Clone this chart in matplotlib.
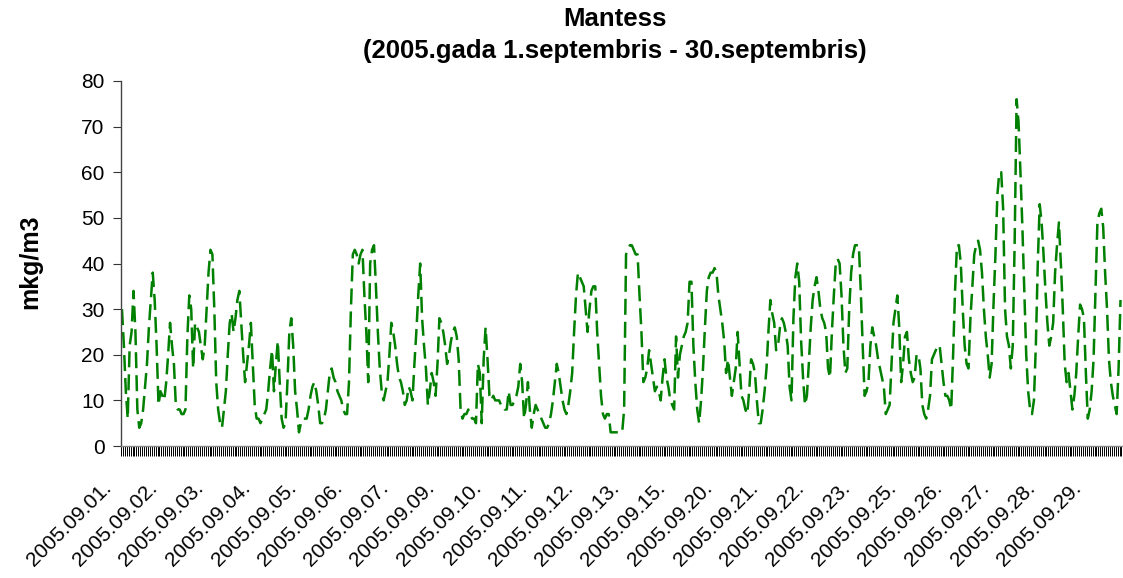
import matplotlib
matplotlib.use('Agg')
import matplotlib.pyplot as plt
import matplotlib.transforms as mtransforms
import numpy as np

plt.rcParams['font.family'] = ['Liberation Sans', 'DejaVu Sans']

dates = ['2005.09.01.', '2005.09.02.', '2005.09.03.', '2005.09.04.', '2005.09.05.',
         '2005.09.06.', '2005.09.07.', '2005.09.09.', '2005.09.10.', '2005.09.11.',
         '2005.09.12.', '2005.09.13.', '2005.09.15.', '2005.09.20.', '2005.09.21.',
         '2005.09.22.', '2005.09.23.', '2005.09.25.', '2005.09.26.', '2005.09.27.',
         '2005.09.28.', '2005.09.29.']

# hourly values (mkg/m3), one list per day
d0901 = [30, 22, 12, 6, 22, 25, 34, 25, 8, 4, 5, 8, 13, 18, 26, 32, 38, 32, 22, 9, 12, 11, 10, 14]
d0902 = [20, 27, 22, 18, 9, 8, 8, 7, 7, 8, 24, 33, 30, 17, 27, 26, 25, 22, 19, 22, 30, 38, 43, 42]
d0903 = [30, 14, 8, 5, 4, 8, 12, 20, 27, 29, 25, 28, 32, 34, 27, 20, 14, 18, 22, 27, 18, 9, 6, 6]
d0904 = [5, 6, 7, 8, 12, 17, 21, 12, 18, 23, 14, 6, 4, 5, 14, 25, 28, 22, 12, 8, 3, 5, 6, 6]
d0905 = [6, 8, 11, 13, 14, 12, 9, 5, 5, 6, 8, 12, 16, 17, 15, 14, 12, 11, 10, 8, 7, 7, 14, 30]
d0906 = [42, 43, 42, 40, 42, 43, 33, 25, 14, 40, 43, 44, 35, 25, 17, 12, 10, 12, 14, 20, 27, 25, 22, 18]
d0907 = [15, 14, 12, 9, 10, 13, 12, 10, 18, 25, 33, 40, 28, 22, 17, 9, 12, 16, 14, 11, 18, 28, 27, 25]
d0909 = [22, 18, 20, 23, 25, 26, 24, 19, 8, 6, 7, 7, 8, 7, 6, 6, 5, 18, 16, 5, 19, 26, 19, 11]
d0910 = [10, 11, 10, 10, 10, 9, 9, 8, 8, 12, 9, 9, 10, 11, 13, 18, 14, 6, 9, 14, 8, 4, 7, 9]
d0911 = [8, 7, 6, 5, 4, 4, 5, 7, 10, 14, 18, 16, 13, 10, 8, 7, 9, 12, 16, 25, 33, 38, 37, 36]
d0912 = [35, 30, 25, 30, 34, 35, 35, 25, 18, 11, 7, 6, 7, 7, 3, 3, 3, 3, 3, 3, 3, 8, 42, 43]
d0913 = [44, 44, 43, 42, 42, 33, 25, 14, 15, 17, 21, 18, 15, 12, 13, 12, 10, 15, 19, 15, 13, 10, 9, 8]
d0915 = [24, 15, 20, 22, 24, 25, 27, 36, 36, 22, 14, 8, 5, 10, 17, 26, 34, 37, 38, 38, 39, 38, 33, 30]
d0920 = [27, 23, 16, 19, 15, 11, 14, 17, 25, 18, 11, 10, 8, 7, 12, 19, 18, 16, 10, 5, 5, 8, 12, 17]
d0921 = [25, 32, 29, 27, 21, 22, 26, 28, 27, 25, 22, 13, 10, 28, 37, 40, 36, 23, 15, 9, 11, 18, 26, 32]
d0922 = [35, 37, 34, 30, 28, 27, 25, 17, 15, 25, 33, 40, 41, 40, 33, 22, 16, 17, 30, 38, 42, 44, 44, 44]
d0923 = [34, 22, 11, 12, 14, 22, 26, 24, 22, 19, 17, 15, 13, 7, 8, 9, 18, 27, 30, 33, 26, 14, 18, 24]
d0925 = [25, 19, 16, 14, 15, 20, 20, 17, 9, 7, 6, 8, 11, 19, 20, 21, 22, 22, 18, 14, 11, 11, 10, 8]
d0926 = [20, 34, 44, 44, 40, 30, 22, 18, 17, 28, 35, 42, 44, 45, 43, 38, 30, 24, 20, 15, 18, 31, 42, 55]
d0927 = [60, 60, 52, 30, 24, 22, 17, 22, 45, 76, 71, 60, 48, 34, 20, 12, 8, 7, 10, 22, 40, 53, 49, 42]
d0928 = [34, 27, 22, 24, 27, 38, 44, 49, 40, 30, 18, 14, 16, 12, 8, 11, 16, 24, 31, 30, 28, 16, 6, 8]
d0929 = [12, 19, 34, 49, 51, 52, 48, 38, 30, 19, 14, 11, 9, 7, 17, 32]

days = [d0901, d0902, d0903, d0904, d0905, d0906, d0907, d0909, d0910, d0911, d0912,
        d0913, d0915, d0920, d0921, d0922, d0923, d0925, d0926, d0927, d0928, d0929]
values = [v for day in days for v in day]
x = np.arange(len(values))

fig = plt.figure(figsize=(11.23, 5.78), dpi=100)
ax = fig.add_axes([121 / 1123, 1 - 446 / 578, 1 - 121 / 1123, (446 - 81) / 578])

ax.plot(x, values, color='#008000', lw=1.8, dashes=(6.4, 2.8))

ax.set_ylim(0, 80)
ax.set_yticks(range(0, 81, 10))
ax.set_xlim(-0.5, 520.3)

# label every 24 hours, tick mark at every category boundary
ax.set_xticks(np.arange(0, len(values), 24)[:len(dates)], dates,
              rotation=45, ha='right', va='baseline', rotation_mode='anchor', fontsize=15)
ax.set_xticks(np.arange(len(values) + 1) - 0.5, minor=True)
ax.tick_params(axis='x', which='major', length=0, pad=31)
ax.tick_params(axis='x', which='minor', length=7.5, width=0.7, direction='out', color='black')
ax.tick_params(axis='y', length=5.8, width=0.8, labelsize=15, pad=6, color='#333333')
offset = mtransforms.ScaledTranslation(-0.096, 0, fig.dpi_scale_trans)
for lab in ax.get_xticklabels():
    lab.set_transform(lab.get_transform() + offset)

for side in ('top', 'right'):
    ax.spines[side].set_visible(False)
ax.spines['left'].set_color('#444444')
ax.spines['bottom'].set_color('#888888')
ax.spines['left'].set_linewidth(1.0)
ax.spines['bottom'].set_linewidth(1.0)

fig.text(615 / 1123, 1 - 19 / 578, 'Mantess', ha='center', va='center',
         fontsize=18.5, fontweight='bold')
fig.text(615 / 1123, 1 - 51 / 578, '(2005.gada 1.septembris - 30.septembris)',
         ha='center', va='center', fontsize=18.5, fontweight='bold')
fig.text(30 / 1123, 1 - 262 / 578, 'mkg/m3', ha='center', va='center', rotation=90,
         fontsize=18, fontweight='bold')

fig.savefig('out.png', dpi=100)
